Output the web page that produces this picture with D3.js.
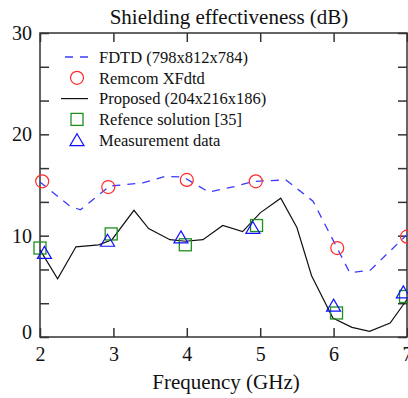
<!DOCTYPE html>
<html>
<head>
<meta charset="utf-8">
<script src="https://cdn.jsdelivr.net/npm/d3@7"></script>
<style>
  body { margin: 0; background: #fff; }
  svg { display: block; font-family: "Liberation Serif", "Times New Roman", serif; }
</style>
</head>
<body>
<svg id="chart" width="408" height="398"></svg>
<script>
// values
const fdtdFreq = [2.0, 2.4, 2.55, 2.95, 3.4, 3.7, 3.95, 4.3, 4.65, 4.9, 5.35, 5.72, 6.22, 6.5, 7.0];
const fdtdSE   = [15.3, 12.95, 12.55, 14.9, 15.2, 15.85, 15.8, 14.3, 14.85, 15.35, 15.5, 13.4, 6.35, 6.6, 10.1];

const propFreq = [2.0, 2.24, 2.49, 2.8, 2.98, 3.28, 3.48, 3.77, 3.98, 4.22, 4.49, 4.76, 5.0, 5.28, 5.5, 5.7, 5.99, 6.25, 6.49, 6.77, 7.0];
const propSE   = [8.6, 5.75, 8.9, 9.1, 9.6, 12.5, 10.7, 9.6, 9.45, 9.6, 11.0, 10.4, 12.25, 13.7, 10.8, 6.05, 1.87, 0.95, 0.55, 1.38, 3.7];

const remFreq = [2.03, 2.93, 4.0, 4.94, 6.05, 7.0];
const remSE   = [15.36, 14.8, 15.5, 15.36, 8.78, 9.9];

const refFreq = [2.0, 2.97, 3.98, 4.95, 6.04, 6.98];
const refSE   = [8.78, 10.17, 9.1, 11.0, 2.37, 4.0];

const measFreq = [2.06, 2.92, 3.92, 4.9, 6.0, 6.95];
const measSE   = [8.3, 9.5, 9.83, 10.76, 3.1, 4.4];

const xTicks = [2, 3, 4, 5, 6, 7];
const yTicks = [0, 10 / 3, 20 / 3, 10, 40 / 3, 50 / 3, 20, 70 / 3, 80 / 3, 30];
const yLabels = [0, 10, 20, 30];

const legendLabels = ["FDTD (798x812x784)", "Remcom XFdtd", "Proposed (204x216x186)", "Refence solution [35]", "Measurement data"];

const svg = d3.select('#chart');
const margin = {top: 33, right: 1, bottom: 61, left: 40};
const width = 408 - margin.left - margin.right;
const height = 398 - margin.top - margin.bottom;

const x = d3.scaleLinear().domain([2, 7]).range([0, width]);
const y = d3.scaleLinear().domain([0, 30]).range([height, 0]);

const g = svg.append('g').attr('transform', `translate(${margin.left},${margin.top})`);

const blue = '#3a3aff', red = '#ff2a2a', green = '#1f8f1f', markBlue = '#1010ff';

// frame
g.append('rect').attr('width', width).attr('height', height)
  .attr('fill', 'none').attr('stroke', '#333').attr('stroke-width', 1.5);

const fmtY = d => yLabels.includes(Math.round(d * 1000) / 1000) ? d3.format('d')(d) : '';

const yAxis = g.append('g').call(d3.axisLeft(y).tickValues(yTicks).tickSize(-9).tickSizeOuter(0).tickPadding(8).tickFormat(fmtY));
g.append('g').attr('transform', `translate(${width},0)`)
  .call(d3.axisRight(y).tickValues(yTicks).tickSize(-9).tickSizeOuter(0).tickFormat(''));
g.append('g').attr('transform', `translate(0,${height})`)
  .call(d3.axisBottom(x).tickValues(xTicks).tickSize(-9).tickSizeOuter(0).tickPadding(10).tickFormat(d3.format('d')));
g.append('g')
  .call(d3.axisTop(x).tickValues(xTicks).tickSize(-9).tickSizeOuter(0).tickFormat(''));

g.selectAll('.domain').remove();
g.selectAll('.tick line').attr('stroke', '#333').attr('stroke-width', 1.5);
g.selectAll('.tick text').attr('font-family', '"Liberation Serif", serif').attr('font-size', 20).attr('fill', '#111');
// the zero label sits a little higher than the others
yAxis.selectAll('.tick text').filter(d => d === 0).attr('dy', '0.08em');

// lines
const line = d3.line().x(d => x(d[0])).y(d => y(d[1]));

g.append('path').datum(d3.zip(fdtdFreq, fdtdSE))
  .attr('d', line).attr('fill', 'none').attr('stroke', blue)
  .attr('stroke-width', 1.3).attr('stroke-dasharray', '8,7');

g.append('path').datum(d3.zip(propFreq, propSE))
  .attr('d', line).attr('fill', 'none').attr('stroke', '#111').attr('stroke-width', 1.2);

// markers
const triPath = 'M0,-6.5L7,5.5L-7,5.5Z';

g.selectAll('.rem').data(d3.zip(remFreq, remSE)).join('circle')
  .attr('cx', d => x(d[0])).attr('cy', d => y(d[1])).attr('r', 6.5)
  .attr('fill', 'none').attr('stroke', red).attr('stroke-width', 1.2);

g.selectAll('.ref').data(d3.zip(refFreq, refSE)).join('rect')
  .attr('x', d => x(d[0]) - 6).attr('y', d => y(d[1]) - 6).attr('width', 12).attr('height', 12)
  .attr('fill', 'none').attr('stroke', green).attr('stroke-width', 1.3);

g.selectAll('.meas').data(d3.zip(measFreq, measSE)).join('path')
  .attr('transform', d => `translate(${x(d[0])},${y(d[1])})`).attr('d', triPath)
  .attr('fill', 'none').attr('stroke', markBlue).attr('stroke-width', 1.2);

// legend
const legend = svg.append('g').attr('transform', 'translate(77,57)');
const rowH = 20.8;
legendLabels.forEach((lab, i) => {
  const row = legend.append('g').attr('transform', `translate(0,${i * rowH})`);
  if (i === 0) row.append('line').attr('x1', -12).attr('x2', 11).attr('stroke', blue)
    .attr('stroke-width', 1.3).attr('stroke-dasharray', '8,7');
  if (i === 1) row.append('circle').attr('r', 6.5).attr('fill', 'none').attr('stroke', red).attr('stroke-width', 1.2);
  if (i === 2) row.append('line').attr('x1', -16).attr('x2', 11).attr('stroke', '#111').attr('stroke-width', 1.2);
  if (i === 3) row.append('rect').attr('x', -6).attr('y', -6).attr('width', 12).attr('height', 12)
    .attr('fill', 'none').attr('stroke', green).attr('stroke-width', 1.3);
  if (i === 4) row.append('path').attr('d', triPath).attr('fill', 'none').attr('stroke', markBlue).attr('stroke-width', 1.2);
  row.append('text').attr('x', 22).attr('dy', '0.35em').attr('font-size', 16.5).attr('fill', '#111').text(lab);
});

// titles
svg.append('text').attr('x', 229).attr('y', 24).attr('text-anchor', 'middle')
  .attr('font-size', 21).attr('fill', '#111').text('Shielding effectiveness (dB)');
svg.append('text').attr('x', 226).attr('y', 389).attr('text-anchor', 'middle')
  .attr('font-size', 21).attr('fill', '#111').text('Frequency (GHz)');
</script>
</body>
</html>
